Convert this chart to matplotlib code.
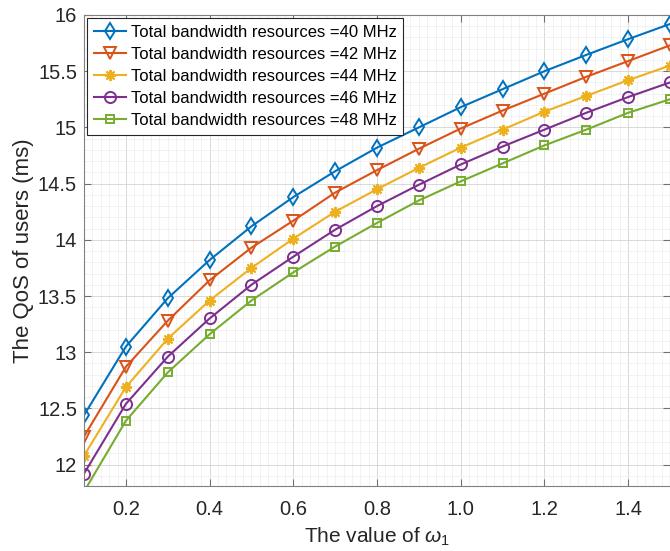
import matplotlib
matplotlib.use("Agg")
import matplotlib.pyplot as plt
from matplotlib.ticker import MultipleLocator, FormatStrFormatter
import numpy

# omega_1 sweep
w1 = [0.1, 0.2, 0.3, 0.4, 0.5, 0.6, 0.7, 0.8, 0.9, 1.0, 1.1, 1.2, 1.3, 1.4, 1.5]

# QoS of users (ms) for each total bandwidth
qos_40 = [12.44, 13.05, 13.48, 13.82, 14.12, 14.38, 14.61, 14.82, 15.00, 15.18, 15.34, 15.50, 15.645, 15.785, 15.92]
qos_42 = [12.25, 12.87, 13.28, 13.64, 13.93, 14.17, 14.42, 14.62, 14.81, 14.99, 15.15, 15.30, 15.45, 15.59, 15.73]
qos_44 = [12.08, 12.69, 13.12, 13.46, 13.75, 14.01, 14.25, 14.45, 14.64, 14.82, 14.98, 15.14, 15.28, 15.42, 15.55]
qos_46 = [11.92, 12.54, 12.96, 13.30, 13.60, 13.85, 14.09, 14.30, 14.49, 14.67, 14.83, 14.98, 15.13, 15.27, 15.40]
qos_48 = [11.76, 12.39, 12.82, 13.16, 13.46, 13.71, 13.94, 14.15, 14.35, 14.52, 14.68, 14.84, 14.98, 15.13, 15.25]

bandwidths = [40, 42, 44, 46, 48]

plt.rcParams["font.family"] = ["Liberation Sans", "DejaVu Sans"]
plt.rcParams["mathtext.fontset"] = "custom"
plt.rcParams["mathtext.it"] = "Liberation Sans:italic"
plt.rcParams["mathtext.rm"] = "Liberation Sans"

fig = plt.figure(figsize=(6.7, 5.51), dpi=100)
ax = fig.add_axes([0.1254, 0.118, 0.8746, 0.8548])

# (8, 2, 0) -> eight-armed asterisk like the matlab '*'
styles = [
    (qos_40, "#0072BD", "d", 8.5),
    (qos_42, "#D95319", "v", 8.5),
    (qos_44, "#EDB120", (8, 2, 0), 8),
    (qos_46, "#7E2F8E", "o", 8),
    (qos_48, "#77AC30", "s", 6),
]
for (vals, col, mk, ms), bw in zip(styles, bandwidths):
    ax.plot(w1, vals, color=col, marker=mk, markersize=ms, markerfacecolor="none",
            markeredgewidth=1.4, linewidth=1.5,
            label="Total bandwidth resources =%d MHz" % bw)

ax.set_xlim(0.1, 1.5)
ax.set_ylim(11.81, 16)
ax.xaxis.set_major_locator(MultipleLocator(0.2))
ax.xaxis.set_minor_locator(MultipleLocator(0.02))
ax.yaxis.set_minor_locator(MultipleLocator(0.1))
ax.xaxis.set_major_formatter(FormatStrFormatter("%.1f"))
ax.set_yticks([12, 12.5, 13, 13.5, 14, 14.5, 15, 15.5, 16])
ax.set_yticklabels(["12", "12.5", "13", "13.5", "14", "14.5", "15", "15.5", "16"])

ax.grid(which="major", color="#d9d9d9", linewidth=0.7)
ax.grid(which="minor", color="#ededed", linewidth=0.5)
ax.set_axisbelow(True)

ax.tick_params(which="major", direction="in", length=5, width=0.8, top=True, right=True,
               labelsize=14.5, colors="#707070", labelcolor="#262626")
ax.tick_params(axis="x", pad=10)
ax.tick_params(axis="y", pad=5)
ax.tick_params(which="minor", length=0)
for s in ax.spines.values():
    s.set_color("#808080")
    s.set_linewidth(0.8)

ax.set_xlabel(r"The value of $\omega_1$", fontsize=15, color="#262626", labelpad=5)
ax.set_ylabel("The QoS of users (ms)", fontsize=16, color="#262626", labelpad=3)

leg = ax.legend(loc="upper left", fontsize=12, borderaxespad=0.2, handlelength=1.9,
                handletextpad=0.3, labelspacing=0.42, borderpad=0.4, fancybox=False,
                framealpha=1)
leg.get_frame().set_edgecolor("#262626")
leg.get_frame().set_linewidth(0.8)

plt.savefig("out.png", dpi=100)
